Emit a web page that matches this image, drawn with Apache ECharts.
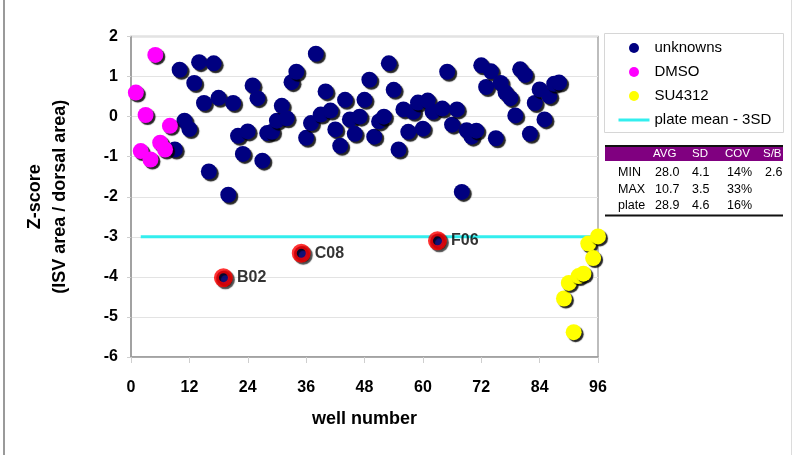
<!DOCTYPE html>
<html>
<head>
<meta charset="utf-8">
<script src="https://cdn.jsdelivr.net/npm/echarts@6/dist/echarts.min.js"></script>
<style>html,body{margin:0;padding:0;background:#fff}#c{width:800px;height:455px}</style>
</head>
<body>
<div id="c"></div>
<script>
// ---- data ----
var dmsoWells = [1, 2, 3, 4, 5, 6, 7, 8];
var dmsoZ = [0.6, -0.86, 0.04, -1.07, 1.54, -0.65, -0.82, -0.23];

var unknownWells = [9, 10, 11, 12, 13, 14, 15, 16, 17, 18, 20, 21, 22, 23, 24, 25, 26, 27, 28, 29, 30,
  31, 32, 33, 34, 36, 37, 38, 39, 40, 41, 42, 43, 44, 45, 46, 47, 48, 49, 50, 51, 52, 53, 54, 55, 56,
  57, 58, 59, 60, 61, 62, 64, 65, 66, 67, 68, 69, 70, 71, 72, 73, 74, 75, 76, 77, 78, 79, 80, 81, 82,
  83, 84, 85, 86, 87, 88];
var unknownZ = [-0.82, 1.17, -0.1, -0.31, 0.84, 1.36, 0.34, -1.37, 1.33, 0.47, -1.95, 0.34, -0.48, -0.93,
  -0.37, 0.78, 0.46, -1.1, -0.41, -0.38, -0.1, 0.27, -0.04, 0.86, 1.12, -0.53, -0.16, 1.57, 0.05, 0.63,
  0.15, -0.32, -0.73, 0.42, -0.07, -0.43, 0.0, 0.42, 0.92, -0.5, -0.12, 0.0, 1.33, 0.67, -0.82, 0.18,
  -0.38, 0.12, 0.35, -0.3, 0.4, 0.12, 0.2, 1.12, -0.2, 0.18, -1.88, -0.34, -0.5, -0.35, 1.28, 0.74,
  1.13, -0.54, 0.84, 0.6, 0.46, 0.03, 1.18, 1.04, -0.43, 0.34, 0.68, -0.07, 0.51, 0.82, 0.85];

var su4312Wells = [89, 90, 91, 92, 93, 94, 95, 96];
var su4312Z = [-4.54, -4.15, -5.38, -3.98, -3.92, -3.17, -3.53, -2.99];

var hitWells = [19, 35, 63];
var hitZ = [-4.02, -3.41, -3.1];
var hitLabels = ['B02', 'C08', 'F06'];

var cutoffWells = [2, 96];
var cutoffZ = [-3, -3];

var xTicks = [0, 12, 24, 36, 48, 60, 72, 84, 96];
var yTicks = [-6, -5, -4, -3, -2, -1, 0, 1, 2];

var tableHeader = ['AVG', 'SD', 'COV', 'S/B'];
var tableRowNames = ['MIN', 'MAX', 'plate'];
var tableAVG = ['28.0', '10.7', '28.9'];
var tableSD = ['4.1', '3.5', '4.6'];
var tableCOV = ['14%', '33%', '16%'];
var tableSB = ['2.6', '', ''];

// ---- build ----
function pairs(xs, ys) { return xs.map(function (x, i) { return [x, ys[i]]; }); }
var FONT = '"Liberation Sans", Arial, sans-serif';
var shadow = { shadowColor: 'rgba(0,0,0,0.85)', shadowBlur: 1, shadowOffsetX: 2, shadowOffsetY: 2 };
function dotStyle(c) { return Object.assign({ color: c, opacity: 1 }, shadow); }

var chart = echarts.init(document.getElementById('c'), null, { renderer: 'canvas' });

var graphics = [
  { type: 'line', shape: { x1: 4, y1: 0, x2: 4, y2: 455 }, style: { stroke: '#9a9a9a', lineWidth: 2 }, z: 0 },
  { type: 'line', shape: { x1: 791.5, y1: 0, x2: 791.5, y2: 455 }, style: { stroke: '#dcdcdc', lineWidth: 1 }, z: 0 },
  { type: 'rect', shape: { x: 604.5, y: 33.5, width: 179, height: 99 }, style: { fill: '#fff', stroke: '#d6d6d6', lineWidth: 1 }, z: 0 },
  { type: 'rect', shape: { x: 605, y: 146, width: 178, height: 15 }, style: { fill: '#800080' }, z: 0 },
  { type: 'line', shape: { x1: 605, y1: 146, x2: 783, y2: 146 }, style: { stroke: '#111', lineWidth: 2 }, z: 1 },
  { type: 'line', shape: { x1: 605, y1: 215.5, x2: 783, y2: 215.5 }, style: { stroke: '#111', lineWidth: 2 }, z: 1 }
];
var colX = [653, 692, 725, 763];
tableHeader.forEach(function (h, i) {
  graphics.push({ type: 'text', z: 2, style: { text: h, x: colX[i], y: 154, fill: '#fff', font: '11.5px ' + FONT, verticalAlign: 'middle' } });
});
var rowY = [173, 189.5, 206];
var valX = [655, 692, 727, 765];
tableRowNames.forEach(function (r, i) {
  var vals = [tableAVG[i], tableSD[i], tableCOV[i], tableSB[i]];
  graphics.push({ type: 'text', z: 2, style: { text: r, x: 618, y: rowY[i], fill: '#000', font: '12.5px ' + FONT, verticalAlign: 'middle' } });
  vals.forEach(function (v, j) {
    if (v) graphics.push({ type: 'text', z: 2, style: { text: v, x: valX[j], y: rowY[i], fill: '#000', font: '12.5px ' + FONT, verticalAlign: 'middle' } });
  });
});

var option = {
  animation: false,
  backgroundColor: '#fff',
  textStyle: { fontFamily: FONT },
  grid: { left: 131, top: 36.5, right: 202, bottom: 98, show: true, borderColor: '#a8a8a8', borderWidth: 1.5, backgroundColor: 'transparent' },
  legend: {
    data: ['unknowns', 'DMSO', 'SU4312', 'plate mean - 3SD'],
    orient: 'vertical', left: 617, top: 39, itemWidth: 31, itemHeight: 10, itemGap: 6,
    padding: 0,
    textStyle: { fontSize: 15, color: '#000', fontFamily: FONT, lineHeight: 18 },
    itemStyle: { shadowBlur: 0, shadowOffsetX: 0, shadowOffsetY: 0, shadowColor: 'transparent' },
    lineStyle: { width: 3, color: '#33EEEE' },
    selectedMode: false
  },
  xAxis: {
    type: 'value', min: 0, max: 96, interval: 12,
    name: 'well number', nameLocation: 'middle', nameGap: 53,
    nameTextStyle: { fontSize: 18, fontWeight: 'bold', color: '#000', fontFamily: FONT },
    axisLine: { onZero: false, lineStyle: { color: '#9a9a9a', width: 1.5 } },
    axisTick: { show: true, inside: false, length: 6, lineStyle: { color: '#cfcfcf' } },
    axisLabel: { fontSize: 16, fontWeight: 'bold', color: '#000', margin: 23, fontFamily: FONT,
      formatter: function (v) { return xTicks.indexOf(v) >= 0 ? String(v) : ''; } },
    splitLine: { show: false }
  },
  yAxis: {
    type: 'value', min: -6, max: 2, interval: 1,
    name: 'Z-score\n(ISV area / dorsal area)', nameLocation: 'middle', nameGap: 58, nameRotate: 90,
    nameTextStyle: { fontSize: 18, fontWeight: 'bold', color: '#000', fontFamily: FONT, lineHeight: 25 },
    axisLine: { show: true, onZero: false, lineStyle: { color: '#9a9a9a', width: 1.5 } },
    axisTick: { show: true, length: 4, lineStyle: { color: '#cfcfcf' } },
    axisLabel: { fontSize: 16, fontWeight: 'bold', color: '#000', margin: 13, fontFamily: FONT,
      formatter: function (v) { return yTicks.indexOf(v) >= 0 ? String(v) : ''; } },
    splitLine: { show: true, lineStyle: { color: '#e3e3e3', width: 1 } }
  },
  series: [
    { name: 'plate mean - 3SD', type: 'line', data: pairs(cutoffWells, cutoffZ), symbol: 'none',
      lineStyle: { color: '#33EEEE', width: 3 }, itemStyle: { color: 'rgba(0,0,0,0)', borderWidth: 0 }, z: 1, silent: true },
    { name: 'unknowns', type: 'scatter', data: pairs(unknownWells, unknownZ), symbolSize: 16,
      itemStyle: dotStyle('#000080'), z: 3 },
    { name: 'DMSO', type: 'scatter', data: pairs(dmsoWells, dmsoZ), symbolSize: 16,
      itemStyle: dotStyle('#FF00FF'), z: 3 },
    { name: 'SU4312', type: 'scatter', data: pairs(su4312Wells, su4312Z), symbolSize: 16,
      itemStyle: dotStyle('#FFFF00'), z: 3 },
    { name: 'hits', type: 'scatter', data: hitWells.map(function (w, i) { return { value: [w, hitZ[i]], name: hitLabels[i] }; }),
      symbolSize: 14,
      itemStyle: Object.assign({ color: '#000080', borderColor: '#FF0000', borderWidth: 5 }, shadow),
      label: { show: true, position: 'right', distance: 4, formatter: '{b}', fontSize: 16, fontWeight: 'bold', color: '#000', fontFamily: FONT,
        textShadowColor: 'transparent', textShadowBlur: 0, textBorderWidth: 0 },
      z: 4 }
  ],
  graphic: graphics
};
chart.setOption(option);
</script>
</body>
</html>
